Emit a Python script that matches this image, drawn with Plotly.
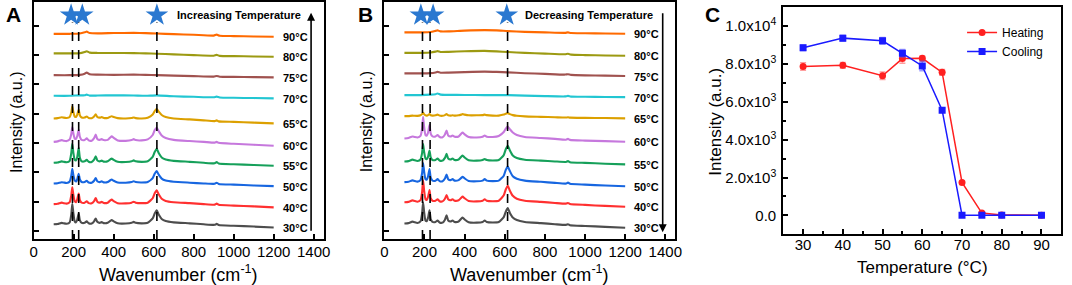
import plotly.graph_objects as go

# ---------------- data ----------------
temps = ["30°C", "40°C", "50°C", "55°C", "60°C", "65°C", "70°C", "75°C", "80°C", "90°C"]

wn_cryst = [100, 120, 140, 150, 165, 180, 188, 193, 198, 205, 212, 218, 225, 231, 240, 255, 265, 275, 290, 302,
            310, 318, 330, 340, 350, 370, 383, 390, 400, 420, 460, 490, 500, 510, 540, 570, 595, 605, 615, 625,
            640, 660, 700, 780, 850, 905, 915, 925, 1000, 1100, 1200]
wn_flat = [100, 180, 230, 255, 265, 280, 320, 400, 500, 560, 615, 700, 800, 900, 915, 930, 1000, 1100, 1200]

# Panel A (heating) relative intensities (a.u.)
a30 = [0, 0.3, 1.5, 1.0, 0.5, 2, 10, 21, 12, 3, 2, 5, 11, 4, 1.5, 1.5, 3, 1, 0.8, 3, 6, 2.5, 1.5, 2.3, 1.2, 1.5, 3.5, 4.3, 3, 1, 0.8, 1.5, 2.5, 1.5, 1, 1.5, 6, 11, 14.3, 10, 5.5, 3.3, 2, 1, 0, -0.5, 0.5, -0.7, -1.5, -2.3, -3.3]
a40 = [0, 0.3, 1.5, 1.0, 0.5, 2, 9, 17.3, 10, 3, 2, 5, 10.7, 4, 1.5, 1.5, 3, 1, 0.8, 3, 6.3, 2.5, 1.5, 2.3, 1.2, 1.5, 3.8, 4.7, 3, 1, 0.8, 1.5, 2.5, 1.5, 1, 1.5, 6, 11, 14, 10, 5.5, 3.3, 2, 1, 0, -0.5, 0.5, -0.7, -1.5, -2.3, -3.3]
a50 = [0, 0.3, 1.3, 1.0, 0.5, 2, 8, 15, 9, 3, 2, 4.5, 10, 4, 1.5, 1.5, 2.8, 1, 0.8, 2.8, 5.6, 2.3, 1.4, 2.1, 1.1, 1.4, 3.3, 4, 2.8, 1, 0.8, 1.4, 2.3, 1.4, 1, 1.5, 5.5, 10, 12.6, 9, 5, 3, 1.8, 0.8, 0, -0.3, 0.8, -0.5, -1.2, -2, -2.7]
a55 = [0, 0.3, 1.5, 1.0, 0.5, 2, 10, 19.4, 11, 3, 2.5, 6, 15.4, 5, 1.5, 1.5, 3, 1, 0.8, 3.2, 6.7, 2.5, 1.5, 2.3, 1.2, 1.5, 3.6, 4.4, 3, 1, 0.8, 1.5, 2.5, 1.5, 1, 1.5, 6, 11, 14.4, 10, 5.5, 3.3, 2, 1, 0, -0.5, 0.7, -0.7, -1.5, -2.2, -3]
a60 = [0, 0.5, 1.8, 1.2, 0.8, 2.5, 8, 15, 9, 3.5, 3, 6, 12.4, 5, 2, 2, 3.5, 1.5, 1.2, 3.8, 7.4, 3, 2, 2.8, 1.8, 2, 4.5, 5.7, 4, 1.5, 1, 1.8, 2.8, 1.8, 1.5, 2.5, 7, 12, 14.4, 11, 6.5, 4, 2, 0.8, 0, -0.8, 0, -1, -2, -3, -4]
a65 = [0, 0.3, 1.2, 0.8, 0.5, 1.5, 6, 12.3, 7, 2, 1.5, 4, 9, 3, 1, 1, 2, 0.5, 0.3, 2, 4.3, 1.5, 0.8, 1.3, 0.5, 0.5, 1.8, 2.3, 1.5, 0.3, 0, 0.5, 1, 0.3, 0, 0.8, 4, 7.5, 9.6, 7, 3.5, 1.5, 0, -1, -2, -2.7, -2, -3, -3.5, -4.3, -5]
a70 = [0, 0, 0.5, 0.5, 1.2, 0.2, 0.3, 0.5, 0.3, 0, 0.5, -0.5, -1, -1.5, -0.8, -1.7, -2, -2.3, -2.6]
a75 = [0, 0, 0.3, 1.5, 2.7, 0.8, 0.5, 0.3, 0.5, 0.3, 0, -0.5, -1, -1.5, -0.8, -1.6, -1.8, -2, -2.3]
a80 = [0, 0, 0.2, 1.5, 2.2, 0.8, 0.5, 0.5, 0.3, 0, -0.3, -1, -1.7, -2.3, -1.5, -2.5, -2.8, -3.1, -3.4]
a90 = [0, 0, 0.3, 1.5, 2.2, 0.8, 0.5, 0.8, 1, 0.7, 0.3, -0.3, -1, -1.8, -0.8, -2, -2.3, -2.7, -3]
offsets_a = [7, 27.6, 48.7, 69.8, 91.2, 115.1, 138.2, 159.3, 181.5, 201.5]

# Panel B (cooling) relative intensities (a.u.)
b30 = [0, 0.3, 1.8, 1.2, 0.5, 2, 10, 21.6, 12, 3, 2.5, 6, 13.3, 4.5, 1.5, 1.5, 3, 1, 0.8, 3.8, 8.3, 3, 2, 3, 1.5, 2, 4.8, 6, 4, 1.2, 0.8, 1.5, 3, 1.5, 1, 1.5, 6.5, 12, 15.6, 11, 6, 3.5, 1.5, 0.3, -0.8, -1.5, -0.8, -1.8, -2.6, -3.5, -4.4]
b40 = [0, 0.3, 1.8, 1.2, 0.5, 2, 10, 22.4, 12, 3, 2.5, 5.5, 12.4, 4, 1.5, 1.5, 3, 1, 0.8, 3.5, 7.4, 3, 2, 3, 1.5, 2, 4.5, 5.7, 4, 1.2, 0.8, 1.5, 3, 1.5, 1, 1.5, 7, 13, 16.7, 12, 6.5, 3.5, 1.5, 0.3, -0.8, -1.5, -0.8, -1.8, -2.8, -3.8, -4.7]
b50 = [0, 0.3, 1.8, 1.2, 0.5, 2, 9, 19.4, 11, 3, 2.5, 6, 13.4, 4.5, 1.5, 1.5, 3, 1, 0.8, 3.6, 7.7, 3, 2, 3, 1.5, 2, 4.3, 5.4, 3.8, 1.2, 0.8, 1.5, 3, 1.5, 1, 1.5, 6.5, 12.5, 16, 11.5, 6, 3.5, 1.5, 0.3, -0.8, -1.5, -0.5, -1.8, -2.6, -3.5, -4.3]
b55 = [0, 0.3, 1.8, 1.2, 0.5, 2, 8.5, 17.7, 10, 3, 2.5, 5, 11, 4, 1.5, 1.5, 3, 1, 0.8, 3.6, 7.7, 3, 2, 3, 1.5, 2, 4.8, 6, 4, 1.2, 0.8, 1.5, 2.5, 1.5, 1, 1.5, 6.5, 12.5, 16, 11.5, 6, 3.5, 1.8, 0.8, 0, -0.5, 0.3, -0.8, -1.5, -2.3, -3]
b60 = [0, 0.5, 2, 1.5, 1, 2.5, 10, 22, 12, 3.5, 3, 6, 14, 5, 2, 2, 3.5, 1.5, 1.2, 4, 8, 3, 2, 3, 1.8, 2, 4.8, 6, 4.2, 1.5, 1, 1.8, 3, 1.8, 1.5, 2.5, 6.5, 10, 12, 9.5, 6, 3.5, 1.5, 0.5, -0.5, -1.3, -0.5, -1.5, -2.2, -2.8, -3.4]
b65 = [0, 0, 0.5, 0.3, 0.2, 0.8, 2, 3.3, 2, 0.8, 0.5, 1, 2, 0.8, 0.5, 0.8, 1.5, 0.5, 0.3, 1, 2, 0.8, 0.5, 0.8, 0.5, 0.8, 1.5, 2, 1.5, 0.8, 0.8, 1, 1.5, 1, 0.5, 0.5, 1.5, 2.5, 3, 2, 1, 0.3, -0.3, -0.8, -1.2, -1.5, -1.2, -1.6, -1.8, -2, -2.3]
b70 = [0, 0, 0.5, 1, 1.7, 0.5, 0.3, 0.2, 0, 0, 0, -0.5, -1, -1.3, -0.8, -1.5, -1.7, -1.9, -2]
b75 = [0, 0, 0.3, 1, 1.5, 0.7, 0.8, 1.3, 1.8, 1.5, 1, 0.2, -0.5, -1.2, -0.8, -1.5, -2, -2.3, -2.7]
b80 = [0, 0, 0.3, 1.2, 1.7, 0.8, 1, 1.6, 2, 1.5, 0.8, 0, -0.8, -1.5, -1, -1.8, -2.3, -2.7, -3]
b90 = [0, 0, 0.3, 1.5, 2, 1, 1, 1.8, 2.3, 2, 1.3, 0.5, 0, -0.5, 0, -0.7, -0.9, -1.2, -1.4]
offsets_b = [7.9, 29.6, 50.1, 71.2, 94.7, 117.5, 138.9, 161.1, 182.1, 203]

peaks_a = [194, 225, 616]
stars_a = [187, 243, 616]
peaks_b = [190, 228, 614]
stars_b = [182, 243, 610]

# Panel C
temp_c = [30, 40, 50, 55, 60, 65, 70, 75, 80, 90]
heating = [7870, 7930, 7380, 8290, 8300, 7560, 1740, 120, 20, 10]
heating_err = [200, 150, 200, 250, 120, 150, 80, 50, 30, 30]
cooling = [8860, 9370, 9230, 8570, 7900, 5560, 10, 10, 10, 10]
cooling_err = [150, 150, 180, 200, 250, 100, 30, 30, 30, 30]
c_ticks = [0, 2000, 4000, 6000, 8000, 10000]
c_ticktext = ["0.0", "2.0x10<sup>3</sup>", "4.0x10<sup>3</sup>", "6.0x10<sup>3</sup>",
              "8.0x10<sup>3</sup>", "1.0x10<sup>4</sup>"]

colors = ["#4d4d4d", "#ff3030", "#1766e0", "#16a05a", "#c678dd", "#dca000",
          "#22c6d2", "#a0524f", "#9c9a12", "#ff6a00"]

FONT = "Arial, Liberation Sans, sans-serif"
W, H = 1072, 285

fig = go.Figure()

spectra_a = [a30, a40, a50, a55, a60, a65, a70, a75, a80, a90]
spectra_b = [b30, b40, b50, b55, b60, b65, b70, b75, b80, b90]

def grid_for(vals):
    return wn_cryst if len(vals) == len(wn_cryst) else wn_flat

for spectra, offs, xa, ya in [(spectra_a, offsets_a, "x", "y"), (spectra_b, offsets_b, "x2", "y2")]:
    for i, vals in enumerate(spectra):
        fig.add_trace(go.Scatter(
            x=grid_for(vals), y=[v + offs[i] for v in vals], mode="lines",
            line=dict(color=colors[i], width=2.1, shape="spline", smoothing=0.5),
            xaxis=xa, yaxis=ya, showlegend=False, hoverinfo="skip"))

# stars
fig.add_trace(go.Scatter(x=stars_a, y=[220.5] * 3, mode="markers", xaxis="x", yaxis="y",
                         marker=dict(symbol="star", size=17, color="#2a78d0"), showlegend=False))
fig.add_trace(go.Scatter(x=stars_b, y=[220.5] * 3, mode="markers", xaxis="x2", yaxis="y2",
                         marker=dict(symbol="star", size=17, color="#2a78d0"), showlegend=False))

# panel C
fig.add_trace(go.Scatter(x=temp_c, y=heating, mode="lines+markers", name="Heating",
                         line=dict(color="#ff2020", width=1.5),
                         marker=dict(symbol="circle", size=7, color="#ff2020"),
                         error_y=dict(type="data", array=heating_err, color="rgba(255,80,80,0.55)",
                                      thickness=1.5, width=3),
                         xaxis="x3", yaxis="y3"))
fig.add_trace(go.Scatter(x=temp_c, y=cooling, mode="lines+markers", name="Cooling",
                         line=dict(color="#1a1aff", width=1.5),
                         marker=dict(symbol="square", size=7, color="#1a1aff"),
                         error_y=dict(type="data", array=cooling_err, color="rgba(80,80,255,0.55)",
                                      thickness=1.5, width=3),
                         xaxis="x3", yaxis="y3"))

shapes = []
for pk, xr, yr in [(p, "x", "y") for p in peaks_a] + [(p, "x2", "y2") for p in peaks_b]:
    shapes.append(dict(type="line", xref=xr, yref=yr, x0=pk, x1=pk, y0=-8, y1=213,
                       line=dict(color="black", width=1.6, dash="dash")))

annotations = []
for spectra, offs, xr, yr in [(spectra_a, offsets_a, "x", "y"), (spectra_b, offsets_b, "x2", "y2")]:
    for i, vals in enumerate(spectra):
        annotations.append(dict(x=1236, y=offs[i] + vals[-1] - 0.5, xref=xr, yref=yr, text="<b>%s</b>" % temps[i],
                                showarrow=False, xanchor="left", yanchor="middle",
                                font=dict(family=FONT, size=11, color="black")))

annotations += [
    dict(x=1347, y=220.5, xref="x", yref="y", text="<b>Increasing Temperature</b>", showarrow=False,
         xanchor="right", yanchor="middle", font=dict(family=FONT, size=11, color="black")),
    dict(x=1347, y=220.5, xref="x2", yref="y2", text="<b>Decreasing Temperature</b>", showarrow=False,
         xanchor="right", yanchor="middle", font=dict(family=FONT, size=11, color="black")),
    # arrows
    dict(x=1387, y=223, ax=1387, ay=-1, xref="x", yref="y", axref="x", ayref="y", showarrow=True,
         arrowhead=2, arrowsize=1, arrowwidth=1.6, arrowcolor="black", text=""),
    dict(x=1387, y=-1, ax=1387, ay=224, xref="x2", yref="y2", axref="x2", ayref="y2", showarrow=True,
         arrowhead=2, arrowsize=1, arrowwidth=1.6, arrowcolor="black", text=""),
    # panel letters
    dict(x=10 / W, y=1 - 15 / H, xref="paper", yref="paper", text="<b>A</b>", showarrow=False,
         xanchor="center", yanchor="middle", font=dict(family=FONT, size=21, color="black")),
    dict(x=365 / W, y=1 - 15 / H, xref="paper", yref="paper", text="<b>B</b>", showarrow=False,
         xanchor="center", yanchor="middle", font=dict(family=FONT, size=21, color="black")),
    dict(x=716 / W, y=1 - 14 / H, xref="paper", yref="paper", text="<b>C</b>", showarrow=False,
         xanchor="center", yanchor="middle", font=dict(family=FONT, size=21, color="black")),
    # axis titles
    dict(x=176 / W, y=1 - 273 / H, xref="paper", yref="paper", text="Wavenumber (cm<sup>-1</sup>)",
         showarrow=False, xanchor="center", yanchor="middle", font=dict(family=FONT, size=18, color="black")),
    dict(x=531 / W, y=1 - 273 / H, xref="paper", yref="paper", text="Wavenumber (cm<sup>-1</sup>)",
         showarrow=False, xanchor="center", yanchor="middle", font=dict(family=FONT, size=18, color="black")),
    dict(x=928 / W, y=1 - 267 / H, xref="paper", yref="paper", text="Temperature (°C)",
         showarrow=False, xanchor="center", yanchor="middle", font=dict(family=FONT, size=17, color="black")),
    dict(x=12 / W, y=1 - 122 / H, xref="paper", yref="paper", text="Intensity (a.u.)", textangle=-90,
         showarrow=False, xanchor="center", yanchor="middle", font=dict(family=FONT, size=16, color="black")),
    dict(x=366 / W, y=1 - 122 / H, xref="paper", yref="paper", text="Intensity (a.u.)", textangle=-90,
         showarrow=False, xanchor="center", yanchor="middle", font=dict(family=FONT, size=16, color="black")),
    dict(x=718 / W, y=1 - 122 / H, xref="paper", yref="paper", text="Intensity (a.u.)", textangle=-90,
         showarrow=False, xanchor="center", yanchor="middle", font=dict(family=FONT, size=17, color="black")),
]

axis_common = dict(showline=True, linecolor="black", linewidth=2, mirror=True, ticks="inside",
                   tickcolor="black", tickwidth=1.5, showgrid=False, zeroline=False,
                   tickfont=dict(family=FONT, size=15, color="black"))

spec_x = dict(axis_common, range=[0, 1450], tickvals=[0, 200, 400, 600, 800, 1000, 1200, 1400],
              ticklen=5, ticklabelstandoff=-2)
spec_y = dict(axis_common, range=[-8, 234], tick0=0, dtick=30, ticklen=5, showticklabels=False)

fig.update_layout(
    width=W, height=H, margin=dict(l=0, r=0, t=0, b=0),
    paper_bgcolor="white", plot_bgcolor="white",
    xaxis=dict(spec_x, domain=[30 / W, 323 / W], anchor="y"),
    yaxis=dict(spec_y, domain=[46 / H, 283 / H], anchor="x"),
    xaxis2=dict(spec_x, domain=[384.3 / W, 678.3 / W], anchor="y2"),
    yaxis2=dict(spec_y, domain=[46 / H, 283 / H], anchor="x2"),
    xaxis3=dict(axis_common, domain=[787.3 / W, 1068.3 / W], anchor="y3", range=[25, 95],
                tickvals=[30, 40, 50, 60, 70, 80, 90], ticklen=5, ticklabelstandoff=-4,
                minor=dict(ticks="inside", ticklen=3, dtick=5, tick0=0, tickcolor="black")),
    yaxis3=dict(axis_common, domain=[(H - 234.3) / H, (H - 7.3) / H], anchor="x3", range=[-1000, 11000],
                tickvals=c_ticks, ticktext=c_ticktext, ticklen=5, ticklabelstandoff=2,
                minor=dict(ticks="inside", ticklen=3, dtick=1000, tick0=0, tickcolor="black")),
    showlegend=True,
    legend=dict(x=968 / W, y=1 - 18 / H, xanchor="left", yanchor="top", bgcolor="rgba(0,0,0,0)",
                font=dict(family=FONT, size=12, color="black"), tracegroupgap=0, itemwidth=30),
    shapes=shapes, annotations=annotations,
)

fig.write_html("out.html", config={"displayModeBar": False},
               post_script="document.body.style.margin='0px';document.body.style.overflow='hidden';")
